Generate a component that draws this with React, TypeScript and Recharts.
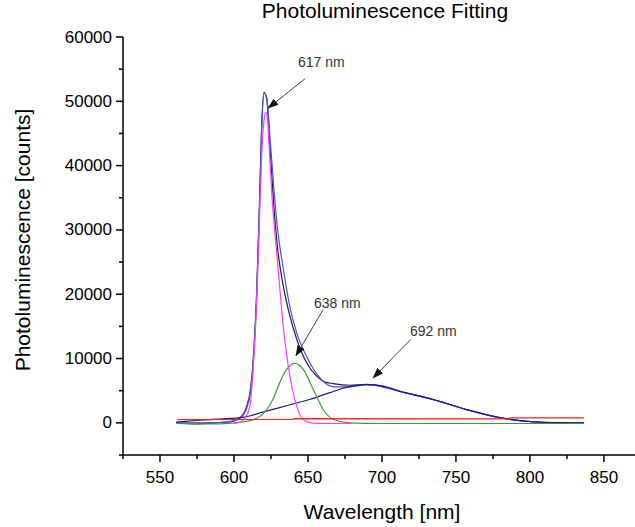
import React from 'react';
import { LineChart, Line, XAxis, YAxis, ReferenceLine, ReferenceDot, Label } from 'recharts';

// measured spectrum (black)
const dataNm = [561, 575, 590, 598, 604.1, 608.6, 610.8, 613, 615.3, 617.1, 618.7, 620.3, 622.1, 624.3, 626.6, 629.3, 633.3, 637.8, 642.4, 649.1, 655.9, 661, 667.1, 678.4, 689.7, 700, 712.2, 734.7, 757.2, 779.7, 802.2, 820, 836.5];
const dataVal = [0, -150, 50, 200, 780, 2600, 4670, 9860, 20250, 33200, 46200, 51400, 50360, 43100, 34800, 27500, 21300, 16600, 13000, 9350, 7260, 6400, 6100, 5850, 5970, 5700, 4920, 3630, 2070, 780, 150, 0, -50];

// cumulative fit (blue)
const fitNm = [561, 590, 600, 604.1, 608.6, 610.8, 613, 615.3, 617.1, 618.7, 620.3, 622.1, 624.3, 626.6, 629.3, 633.3, 637.8, 642.4, 649.1, 655.9, 661, 667.1, 678.4, 689.7, 712.2, 734.7, 757.2, 779.7, 802.2, 836.5];
const fitVal = [0, 50, 300, 700, 2300, 4300, 9200, 19500, 32500, 45500, 51300, 50600, 44500, 37500, 30500, 24000, 18000, 14000, 10300, 7600, 6300, 5600, 5600, 5950, 4900, 3620, 2060, 800, 170, 0];

// peak 617 nm (magenta)
const p617Nm = [600, 604, 608, 611, 613, 615.3, 617.1, 618.7, 620.3, 621.4, 622.5, 624, 625.5, 629.3, 633.3, 637.8, 642.4, 646.8, 652, 660, 680];
const p617Val = [-100, 100, 900, 3000, 8500, 18500, 30500, 41500, 47000, 48300, 47500, 42000, 35800, 25400, 15000, 7260, 2590, 500, 0, -100, -100];

// peak 638 nm (green)
const p638Nm = [561, 590, 604, 612, 617.6, 622, 626.3, 631, 635.6, 641.2, 646.8, 653.6, 660.3, 667.1, 678.4, 700, 836.5];
const p638Val = [-100, -150, 100, 400, 1030, 2000, 3630, 6300, 8300, 9240, 8300, 5190, 2070, 515, 0, -100, -100];

// peak 692 nm (navy)
const p692Nm = [561, 577, 590, 606, 620, 636, 651, 665, 674, 682, 690, 700, 712.2, 734.7, 757.2, 779.7, 802.2, 820, 836.5];
const p692Val = [100, 400, 600, 850, 1700, 2700, 3630, 4700, 5400, 5800, 5950, 5750, 4900, 3620, 2060, 800, 170, 20, 0];

// baseline (red)
const baseNm = [561.7, 640, 640.5, 786, 786.5, 836.5];
const baseVal = [510, 520, 668, 630, 777, 777];

const xMajor = [550, 600, 650, 700, 750, 800, 850];
const xMinor = [525, 575, 625, 675, 725, 775, 825];
const yMajor = [0, 10000, 20000, 30000, 40000, 50000, 60000];
const yMinor = [-5000, 5000, 15000, 25000, 35000, 45000, 55000];

const peakLabels = ['617 nm', '638 nm', '692 nm'];
const labelPos = [
  { x: 643.2, y: 56050 },
  { x: 654.1, y: 18650 },
  { x: 718.9, y: 14240 },
];
const arrows = [
  [{ x: 648.0, y: 53510 }, { x: 623.2, y: 48960 }],
  [{ x: 660.3, y: 17610 }, { x: 641.9, y: 10460 }],
  [{ x: 719.4, y: 12950 }, { x: 694.1, y: 6990 }],
];

const toPts = (xs: number[], ys: number[]) => xs.map((x, i) => ({ x, y: ys[i] }));

const FONT = '"Liberation Sans", Arial, sans-serif';
const AXIS_X = 123;
const AXIS_Y = 455;

const XTick = (props: any) => {
  const { x, payload } = props;
  const major = xMajor.includes(payload.value);
  return (
    <g>
      <line x1={x} x2={x} y1={AXIS_Y} y2={AXIS_Y + (major ? 7 : 4)} stroke="#000" strokeWidth={1.5} />
      {major && (
        <text x={x} y={477} textAnchor="middle" dominantBaseline="central" fontSize={17} fontFamily={FONT} fill="#000">
          {payload.value}
        </text>
      )}
    </g>
  );
};

const YTick = (props: any) => {
  const { y, payload } = props;
  const major = yMajor.includes(payload.value);
  return (
    <g>
      <line x1={AXIS_X - (major ? 7 : 4)} x2={AXIS_X} y1={y} y2={y} stroke="#000" strokeWidth={1.5} />
      {major && (
        <text x={112} y={y} textAnchor="end" dominantBaseline="central" fontSize={17} fontFamily={FONT} fill="#000">
          {payload.value}
        </text>
      )}
    </g>
  );
};

export default function App() {
  const xTicks = [...xMajor, ...xMinor].sort((a, b) => a - b);
  const yTicks = [...yMajor, ...yMinor].sort((a, b) => a - b);

  return (
    <div style={{ position: 'absolute', left: 0, top: 0, width: 635, height: 527, background: '#fff' }}>
      <svg width={0} height={0} style={{ position: 'absolute' }}>
        <defs>
          <marker id="arrowhead" markerUnits="userSpaceOnUse" markerWidth={11} markerHeight={8} refX={10} refY={4} orient="auto">
            <path d="M0,0 L11,4 L0,8 z" fill="#111" />
          </marker>
        </defs>
      </svg>
      <div
        style={{
          position: 'absolute',
          left: 385,
          top: 0,
          transform: 'translateX(-50%)',
          whiteSpace: 'nowrap',
          fontFamily: FONT,
          fontSize: 21,
          lineHeight: '21px',
          color: '#000',
        }}
      >
        Photoluminescence Fitting
      </div>
      <LineChart width={635} height={527} margin={{ top: 37, right: 0, bottom: 0, left: 0 }}>
        <XAxis
          type="number"
          dataKey="x"
          domain={[525, 871]}
          ticks={xTicks}
          interval={0}
          allowDataOverflow
          height={72}
          axisLine={{ stroke: '#000', strokeWidth: 1.5 }}
          tickLine={false}
          tick={XTick}
        >
          <Label
            content={() => (
              <text x={382} y={511} textAnchor="middle" dominantBaseline="central" fontSize={21} fontFamily={FONT} fill="#000">
                Wavelength [nm]
              </text>
            )}
          />
        </XAxis>
        <YAxis
          type="number"
          domain={[-5000, 60000]}
          ticks={yTicks}
          interval={0}
          allowDataOverflow
          width={123}
          axisLine={{ stroke: '#000', strokeWidth: 1.5 }}
          tickLine={false}
          tick={YTick}
        >
          <Label
            content={() => (
              <text
                x={22}
                y={240}
                transform="rotate(-90 22 240)"
                textAnchor="middle"
                dominantBaseline="central"
                fontSize={21}
                fontFamily={FONT}
                fill="#000"
              >
                Photoluminescence [counts]
              </text>
            )}
          />
        </YAxis>

        <Line data={toPts(dataNm, dataVal)} dataKey="y" type="monotone" stroke="#222" strokeWidth={1.2} dot={false} isAnimationActive={false} />
        <Line data={toPts(fitNm, fitVal)} dataKey="y" type="monotone" stroke="#4a4aff" strokeWidth={1.2} dot={false} isAnimationActive={false} />
        <Line data={toPts(p692Nm, p692Val)} dataKey="y" type="monotone" stroke="#1c1c8a" strokeWidth={1.2} dot={false} isAnimationActive={false} />
        <Line data={toPts(p638Nm, p638Val)} dataKey="y" type="monotone" stroke="#3a9a3a" strokeWidth={1.2} dot={false} isAnimationActive={false} />
        <Line data={toPts(p617Nm, p617Val)} dataKey="y" type="monotone" stroke="#ff3cff" strokeWidth={1.2} dot={false} isAnimationActive={false} />
        <Line data={toPts(baseNm, baseVal)} dataKey="y" type="linear" stroke="#ff2020" strokeWidth={1.2} dot={false} isAnimationActive={false} />

        {arrows.map((seg, i) => (
          <ReferenceLine key={'a' + i} segment={seg} stroke="#444" strokeWidth={1} markerEnd="url(#arrowhead)" ifOverflow="visible" />
        ))}
        {peakLabels.map((t, i) => (
          <ReferenceDot
            key={'l' + i}
            x={labelPos[i].x}
            y={labelPos[i].y}
            r={0}
            ifOverflow="visible"
            shape={(p: any) => (
              <text x={p.cx} y={p.cy} dominantBaseline="central" fontSize={14} fontFamily={FONT} fill="#333">
                {t}
              </text>
            )}
          />
        ))}
      </LineChart>
    </div>
  );
}
